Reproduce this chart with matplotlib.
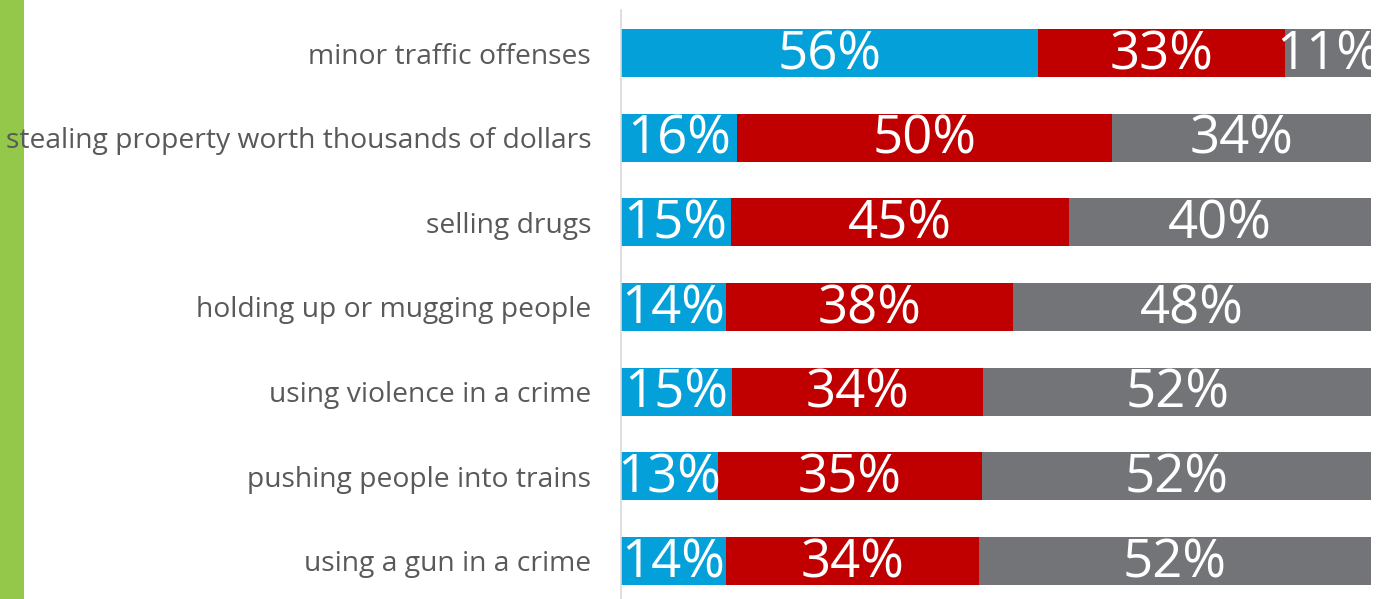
import matplotlib.pyplot as plt
from matplotlib.patches import Rectangle

# --- Data ---
categories = [
    'minor traffic offenses',
    'stealing property worth thousands of dollars',
    'selling drugs',
    'holding up or mugging people',
    'using violence in a crime',
    'pushing people into trains',
    'using a gun in a crime',
]
blue_vals = [55.6, 15.5, 14.6, 14.0, 14.8, 12.9, 14.0]
red_vals = [32.9, 50.0, 45.1, 38.3, 33.5, 35.2, 33.7]
gray_vals = [11.5, 34.5, 40.3, 47.7, 51.7, 51.9, 52.3]
blue_labels = ['56%', '16%', '15%', '14%', '15%', '13%', '14%']
red_labels = ['33%', '50%', '45%', '38%', '34%', '35%', '34%']
gray_labels = ['11%', '34%', '40%', '48%', '52%', '52%', '52%']

colors = ['#03A0D9', '#C00000', '#737477']

W, H = 1376, 599
fig = plt.figure(figsize=(W / 100, H / 100), dpi=100)
fig.patch.set_facecolor('white')

# green strip on the left edge (behind the axes so labels sit on top)
fig.patches.append(Rectangle((0, 0), 24 / W, 1, transform=fig.transFigure,
                             facecolor='#93C84A', edgecolor='none', zorder=-1))

ax = fig.add_axes([621 / W, 0, 750 / W, 589 / H])
ax.patch.set_alpha(0)
ypos = list(range(len(categories)))

lefts = [0] * len(categories)
for vals, labels, col in zip([blue_vals, red_vals, gray_vals],
                             [blue_labels, red_labels, gray_labels], colors):
    ax.barh(ypos, vals, left=lefts, height=0.567, color=col, edgecolor='none')
    for y, v, l, lab in zip(ypos, vals, lefts, labels):
        ax.text(l + v / 2, y + 0.03, lab, ha='center', va='center', color='white',
                fontsize=38, family='Open Sans', clip_on=True)
    lefts = [a + b for a, b in zip(lefts, vals)]

ax.set_xlim(0, 100)
ax.set_ylim(6.449, -0.508)
ax.set_yticks(ypos)
ax.set_yticklabels(categories, fontsize=20.3, color='#595959', family='Open Sans')
ax.tick_params(axis='y', length=0, pad=21.5)
ax.set_xticks([])
for s in ['top', 'right', 'bottom']:
    ax.spines[s].set_visible(False)
ax.spines['left'].set_color('#D9D9D9')
ax.spines['left'].set_linewidth(1.2)

fig.savefig('out.png', dpi=100)
